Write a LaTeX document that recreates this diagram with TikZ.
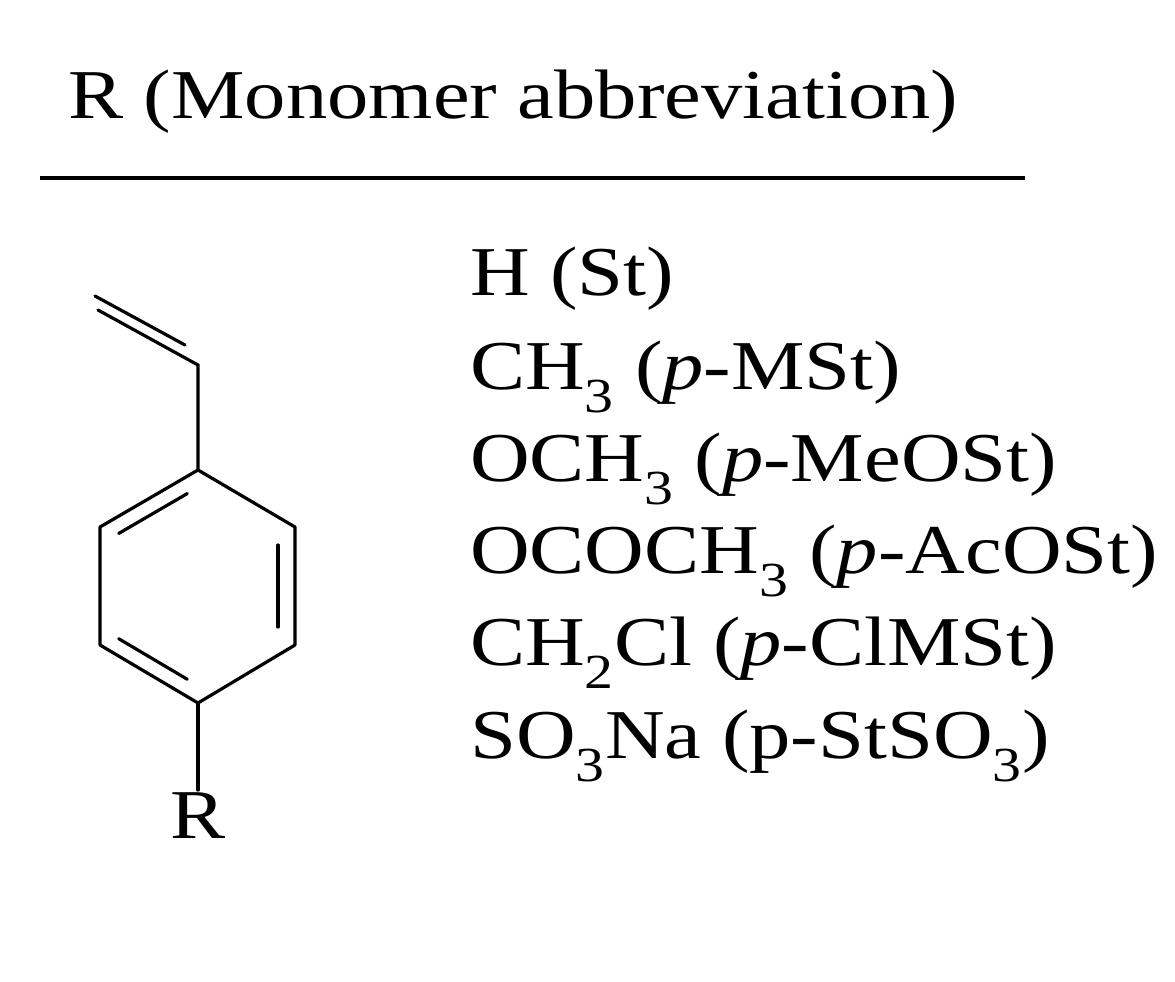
\documentclass[tikz,border=0pt]{standalone}
\usepackage{fontspec}
\setmainfont{Liberation Serif}[FakeStretch=1.18]
\usetikzlibrary{calc}
\begin{document}
\begin{tikzpicture}[x=1pt,y=-1pt,bond/.style={line width=3.2pt,line cap=round},
 lbl/.style={anchor=base west,inner sep=0pt,font=\fontsize{70}{72}\selectfont}]
\useasboundingbox (0,0) rectangle (1175,982);
\node[lbl] (title) at (68,118) {R (Monomer abbreviation)};
\coordinate (r1) at (40,178); \coordinate (r2) at (1025,178);
\draw[line width=4pt] (r1) -- (r2);
% ring
\coordinate (t) at (198,470); \coordinate (ur) at (295,527); \coordinate (lr) at (295,645);
\coordinate (b) at (198,703); \coordinate (ll) at (100,645); \coordinate (ul) at (100,527);
\draw[bond,line join=round] (t)--(ur)--(lr)--(b)--(ll)--(ul)--cycle;
\draw[bond] ($(t)!0.15!(ul)+(4,15)$) -- ($(t)!0.85!(ul)+(4,15)$);
\draw[bond] (278,545) -- (278,627);
\draw[bond] ($(b)!0.15!(ll)+(4,-15)$) -- ($(b)!0.85!(ll)+(4,-15)$);
\coordinate (v1) at (198,365); \coordinate (v2) at (98,310);
\draw[bond] (t)--(v1)--(v2);
\draw[bond] (185,345) -- (95,296);
\coordinate (rb) at (198,790);
\draw[bond] (b)--(rb);
\node[lbl,anchor=north] (R) at (198,792) {R};
\node[lbl] (l1) at (470,295) {H (St)};
\node[lbl] (l2) at (470,389) {CH\textsubscript{3} (\textit{p}-MSt)};
\node[lbl] (l3) at (470,481) {OCH\textsubscript{3} (\textit{p}-MeOSt)};
\node[lbl] (l4) at (470,573) {OCOCH\textsubscript{3} (\textit{p}-AcOSt)};
\node[lbl] (l5) at (470,665) {CH\textsubscript{2}Cl (\textit{p}-ClMSt)};
\node[lbl] (l6) at (470,758) {SO\textsubscript{3}Na (p-StSO\textsubscript{3})};
\end{tikzpicture}
\end{document}
